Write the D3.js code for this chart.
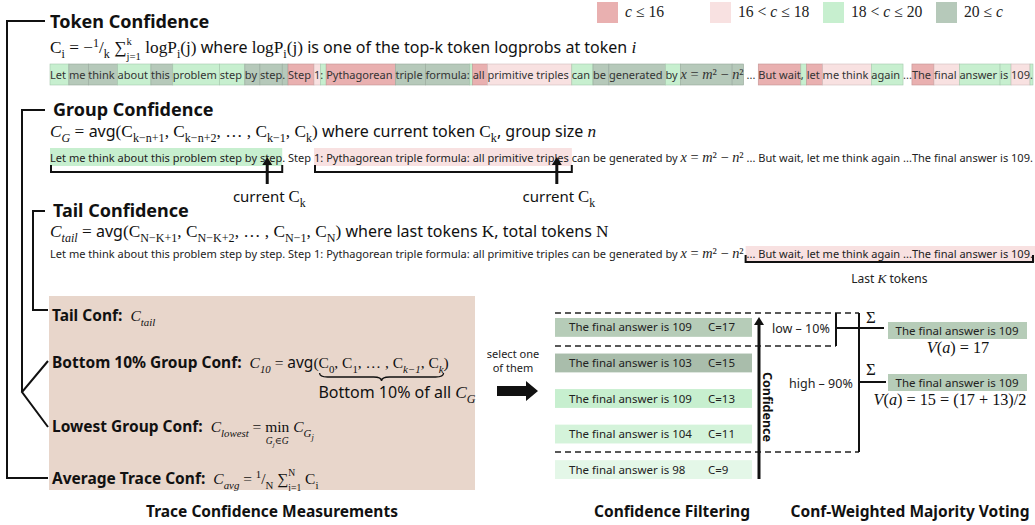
<!DOCTYPE html>
<html><head><meta charset="utf-8">
<script src="https://cdn.jsdelivr.net/npm/d3@7"></script>
<style>body{margin:0;background:#fff} svg{display:block} text{white-space:pre}</style>
</head><body><svg id="c" width="1035" height="525"></svg>
<script>
// ---------------- data ----------------
const levels = ['low', 'mid', 'high', 'top'];
const legendLabels = ['c ≤ 16', '16 < c ≤ 18', '18 < c ≤ 20', '20 ≤ c'];
const levelColors = ['#e9b0b0', '#f8e1e1', '#c7efcf', '#b6c9ba'];
// token text and its confidence level index (-1 = none)
const tokenTexts = ['Let ', 'me ', 'think ', 'about ', 'this ', 'problem ', 'step ', 'by ', 'step', '. ',
  'Step ', '1', ': ', 'Pythagorean ', 'triple ', 'formula:', ' ', 'all ', 'primitive triples ',
  'can ', 'be ', 'generated ', 'by ', 'x = m² − ', 'n²', ' ... ', 'But wait', ', ', 'let ', 'me think ',
  'again ', '...', 'The ', 'final ', 'answer ', 'is ', '109', '.'];
const tokenLevels = [2, 3, 3, 2, 3, 2, 2, 3, 3, 3,
  0, 1, 2, 0, 3, 3, 2, 0, 1,
  2, 3, 3, 2, 3, 3, -1, 0, 2, 0, 1,
  2, -1, 0, 1, 2, 2, 1, 2];
const mathTokens = [23, 24];
const groupSpans = [[0, 8], [11, 18]];
const groupSpanLevels = [2, 1];
const tailSpan = [25, 37];
const answers = [109, 103, 109, 104, 98];
const confs = [17, 15, 13, 11, 9];
const rowColors = ['#b6ccb8', '#a9bdab', '#c7efcf', '#d4f3da', '#e4f7e8'];
const filterKeep = [1, 4];
const filterLabels = ['low – 10%', 'high – 90%'];
const titles = ['Trace Confidence Measurements', 'Confidence Filtering', 'Conf-Weighted Majority Voting'];

// ---------------- helpers ----------------
const SANS = "'Noto Sans', 'Open Sans', sans-serif";
const SERIF = "'Liberation Serif', 'DejaVu Serif', serif";
const FONTS = {
  m: {family: SERIF, style: 'normal', weight: 'normal', math: true},
  mi: {family: SERIF, style: 'italic', weight: 'normal', math: true},
  s: {family: SANS, style: 'normal', weight: 'normal'},
  b: {family: SANS, style: 'normal', weight: 'bold'}
};
const M = t => ({t, f: 'm'}), I = t => ({t, f: 'mi'}), S = t => ({t, f: 's'}), B = t => ({t, f: 'b'});
const sub = (t, f = 'm', o = {}) => Object.assign({t, f, pos: 'sub'}, o);
const sup = (t, f = 'm', o = {}) => Object.assign({t, f, pos: 'sup'}, o);

function rich(parent, x, y, size, segs, color, ms) {
  color = color || '#111';
  ms = ms || 1.12;
  let cx = x, pend = 0, inStack = false;
  const marks = {};
  for (const s of segs) {
    if (s.mark) marks[s.mark] = cx;
    const f = FONTS[s.f || 'm'];
    let fs = size * (f.math ? ms : 1), dy = 0;
    const st = s.stack || inStack;
    if (s.pos === 'sub') { dy = (st ? 0.42 : 0.3) * size; fs *= st ? 0.62 : 0.7; }
    else if (s.pos === 'sup') { dy = (st ? -0.5 : -0.38) * size; fs *= st ? 0.62 : 0.7; }
    else if (s.pos === 'sub2') { dy = 0.5 * size; fs *= 0.55; }
    const t = parent.append('text').attr('x', cx).attr('y', y + dy)
      .attr('font-family', f.family).attr('font-style', f.style).attr('font-weight', f.weight)
      .attr('font-size', fs).attr('fill', color).text(s.t);
    const w = t.node().getComputedTextLength();
    if (s.under) {
      const ug = parent.append('g');
      const r = rich(ug, 0, 0, size * 0.62, s.under, color, ms);
      ug.attr('transform', `translate(${cx + w / 2 - r.end / 2},${y + size * 0.8})`);
    }
    if (s.stack) { pend = w; inStack = true; } else { cx += Math.max(w, pend); pend = 0; inStack = false; }
    if (s.endMark) marks[s.endMark] = cx;
  }
  return {end: cx - x, marks};
}
function centered(parent, cx, y, size, segs, color, ms) {
  const g = parent.append('g');
  const r = rich(g, 0, y, size, segs, color, ms);
  g.attr('transform', `translate(${cx - r.end / 2},0)`);
  return r;
}
function upArrow(parent, x, y1, y2) {
  parent.append('line').attr('x1', x).attr('x2', x).attr('y1', y1).attr('y2', y2 + 6)
    .attr('stroke', '#111').attr('stroke-width', 3);
  parent.append('path').attr('d', `M${x - 5},${y2 + 8} L${x},${y2} L${x + 5},${y2 + 8} Z`).attr('fill', '#111');
}

const svg = d3.select('#c');
svg.append('rect').attr('width', 1035).attr('height', 525).attr('fill', '#fff');

// ---------------- legend ----------------
const lx = d3.scaleBand().domain(levels).range([597, 1049]);
levels.forEach((lv, i) => {
  svg.append('rect').attr('x', lx(lv)).attr('y', 2).attr('width', 21).attr('height', 21).attr('fill', levelColors[i]);
  const p = legendLabels[i].split('c');
  rich(svg, lx(lv) + 28, 17, 14, [M(p[0]), I('c'), M(p[1])], '#222');
});

// ---------------- token layout (measured) ----------------
function drawTokenText(g, x, y, i, size, color) {
  const t = g.append('text').attr('x', x).attr('y', y).attr('font-family', SANS)
    .attr('font-size', size).attr('fill', color);
  if (mathTokens.includes(i)) {
    for (const ch of tokenTexts[i]) {
      const letter = /[a-z]/.test(ch);
      t.append('tspan').attr('font-family', SERIF).attr('font-size', '1.3em')
        .attr('font-style', letter ? 'italic' : 'normal').text(ch);
    }
  } else t.text(tokenTexts[i]);
  return t;
}
const meas = svg.append('g').attr('opacity', 0);
const baseSize = 11;
const widths = tokenTexts.map((_, i) => drawTokenText(meas, 0, 0, i, baseSize, '#000').node().getComputedTextLength());
meas.remove();
const totalW = d3.sum(widths);
const starts = d3.cumsum([0, ...widths]);
const tx = d3.scaleLinear().domain([0, totalW]).range([50, 1033]);
const tokSize = baseSize * 983 / totalW;
const tokStart = i => tx(starts[i]);
const tokEnd = i => tx(starts[i + 1]);

// ---------------- Token Confidence ----------------
rich(svg, 50, 28, 18, [B('Token Confidence')]);
rich(svg, 50, 53, 16, [M('C'), sub('i'), M(' = −'), sup('1'), M('/'), sub('k'), M(' ∑'), sub('j=1', 'm', {stack: true}), sup('k'),
  M(' logP'), sub('i'), M('(j)'), S(' where '), M('logP'), sub('i'), M('(j)'),
  S(' is one of the top-k token logprobs at token '), I('i')], '#111', 1.08);
const row1 = svg.append('g');
tokenTexts.forEach((_, i) => {
  if (tokenLevels[i] < 0) return;
  row1.append('rect').attr('x', tokStart(i)).attr('y', 64).attr('width', tokEnd(i) - tokStart(i)).attr('height', 21)
    .attr('fill', levelColors[tokenLevels[i]])
    .attr('stroke', d3.color(levelColors[tokenLevels[i]]).darker(0.5)).attr('stroke-width', 0.6);
});
tokenTexts.forEach((_, i) => drawTokenText(row1, tokStart(i), 79, i, tokSize, '#333'));

// ---------------- Group Confidence ----------------
rich(svg, 53, 116, 18, [B('Group Confidence')]);
rich(svg, 50, 137, 16, [I('C'), sub('G', 'mi'), M(' = '), S('avg'), M('('), M('C'), sub('k−n+1'), M(', '), M('C'), sub('k−n+2'),
  M(', … , '), M('C'), sub('k−1'), M(', '), M('C'), sub('k'), M(')'), S(' where current token '), M('C'), sub('k'),
  S(', group size '), I('n')], '#111', 1.08);
const row2 = svg.append('g');
groupSpans.forEach(([a, b], j) => {
  row2.append('rect').attr('x', tokStart(a)).attr('y', 148).attr('width', tokEnd(b) - tokStart(a)).attr('height', 18)
    .attr('fill', levelColors[groupSpanLevels[j]]);
});
tokenTexts.forEach((_, i) => drawTokenText(row2, tokStart(i), 162, i, tokSize, '#222'));
groupSpans.forEach(([a, b]) => {
  const x1 = tokStart(a) + 1, x2 = tokEnd(b);
  row2.append('path').attr('d', `M${x1},165 V172 H${x2} V165`).attr('fill', 'none').attr('stroke', '#111').attr('stroke-width', 2);
  const ax = x2 - 15;
  upArrow(row2, ax, 184, 157);
  centered(row2, ax + 2, 202, 15, [S('current '), M('C'), sub('k')]);
});

// ---------------- Tail Confidence ----------------
rich(svg, 53, 217, 18, [B('Tail Confidence')]);
rich(svg, 50, 237, 16, [I('C'), sub('tail', 'mi'), M(' = '), S('avg'), M('('), M('C'), sub('N−K+1'), M(', '), M('C'), sub('N−K+2'),
  M(', … , '), M('C'), sub('N−1'), M(', '), M('C'), sub('N'), M(')'), S(' where last tokens '), M('K'),
  S(', total tokens '), M('N')], '#111', 1.08);
const row3 = svg.append('g');
row3.append('rect').attr('x', tokStart(tailSpan[0]) + 2).attr('y', 246).attr('width', 1035 - tokStart(tailSpan[0]) - 2).attr('height', 16)
  .attr('fill', levelColors[1]);
tokenTexts.forEach((_, i) => drawTokenText(row3, tokStart(i), 258, i, tokSize, '#222'));
{
  const x1 = tokStart(tailSpan[0]) + 2, x2 = 1033;
  row3.append('path').attr('d', `M${x1},255 V262 H${x2} V255`).attr('fill', 'none').attr('stroke', '#111').attr('stroke-width', 2);
  centered(row3, (x1 + x2) / 2, 283, 12, [S('Last '), I('K'), S(' tokens')], '#222');
}

// ---------------- tree lines ----------------
const tree = svg.append('g').attr('fill', 'none').attr('stroke', '#111').attr('stroke-width', 2);
tree.append('path').attr('d', 'M45,21 H7 V478 H48');
tree.append('path').attr('d', 'M45,110 H22 V392');
tree.append('path').attr('d', 'M48,361 L22,392 L48,427');
tree.append('path').attr('d', 'M45,211 H33 V310 H48');

// ---------------- measurement box ----------------
svg.append('rect').attr('x', 49).attr('y', 296).attr('width', 426).attr('height', 194).attr('fill', '#e8d6cb');
const BX = 15.5, BMS = 1.0;
rich(svg, 52, 321, BX, [B('Tail Conf:  '), I('C'), sub('tail', 'mi')], '#111', BMS);
const b10 = rich(svg, 52, 368, BX, [B('Bottom 10% Group Conf:  '), I('C'), sub('10', 'mi'), M(' = '), S('avg'), M('('),
  {t: 'C', f: 'm', mark: 'a'}, sub('0'), M(', '), M('C'), sub('1'), M(', … , '), M('C'), sub('k−1', 'mi'), M(', '), M('C'),
  sub('k', 'mi', {endMark: 'b'}), M(')')], '#111', BMS);
{
  const x1 = b10.marks.a + 1, x2 = b10.marks.b, y = 373, d = 8, xm = (x1 + x2) / 2;
  svg.append('path').attr('fill', 'none').attr('stroke', '#111').attr('stroke-width', 1.3)
    .attr('d', `M${x1},${y} Q${x1},${y + d / 2} ${x1 + d},${y + d / 2} L${xm - d},${y + d / 2} Q${xm},${y + d / 2} ${xm},${y + d} Q${xm},${y + d / 2} ${xm + d},${y + d / 2} L${x2 - d},${y + d / 2} Q${x2},${y + d / 2} ${x2},${y}`);
  centered(svg, 397, 398, 16, [S('Bottom 10% of all '), I('C'), sub('G', 'mi')], '#111', 1.08);
}
rich(svg, 52, 432, BX, [B('Lowest Group Conf:  '), I('C'), sub('lowest', 'mi'), M(' = '),
  {t: 'min', f: 'm', under: [I('G'), sub('j', 'mi'), M('∈'), I('G')]}, M(' '), I('C'), sub('G', 'mi'), {t: 'j', f: 'mi', pos: 'sub2'}], '#111', BMS);
rich(svg, 52, 484, BX, [B('Average Trace Conf:  '), I('C'), sub('avg', 'mi'), M(' = '), sup('1'), M('/'), sub('N'), M(' ∑'),
  sub('i=1', 'm', {stack: true}), sup('N'), M(' C'), sub('i')], '#111', BMS);

// ---------------- select arrow ----------------
centered(svg, 513, 358, 11, [S('select one')], '#222');
centered(svg, 513, 372, 11, [S('of them')], '#222');
svg.append('path').attr('d', 'M497,386 H526 V381 L538,391 L526,401 V396 H497 Z').attr('fill', '#111');

// ---------------- confidence filtering ----------------
const ry = d3.scaleBand().domain(d3.range(confs.length)).range([318, 479]).paddingInner(0.47);
const rows = svg.append('g');
confs.forEach((c, i) => {
  rows.append('rect').attr('x', 555).attr('y', ry(i)).attr('width', 197).attr('height', ry.bandwidth()).attr('fill', rowColors[i]);
  rows.append('text').attr('x', 569).attr('y', ry(i) + ry.bandwidth() / 2 + 4).attr('font-family', SANS).attr('font-size', 11.5)
    .attr('fill', '#222').text('The final answer is ' + answers[i]);
  rows.append('text').attr('x', 708).attr('y', ry(i) + ry.bandwidth() / 2 + 4).attr('font-family', SANS).attr('font-size', 11.5)
    .attr('fill', '#222').text('C=' + c);
});
const dash = svg.append('g').attr('stroke', '#222').attr('stroke-width', 1.5).attr('stroke-dasharray', '6,4');
dash.append('line').attr('x1', 555).attr('x2', 859).attr('y1', 313).attr('y2', 313);
dash.append('line').attr('x1', 555).attr('x2', 836).attr('y1', 346).attr('y2', 346);
dash.append('line').attr('x1', 555).attr('x2', 859).attr('y1', 452).attr('y2', 452);
upArrow(svg, 759, 479, 317);
svg.append('text').attr('transform', 'translate(763,407) rotate(90)').attr('text-anchor', 'middle')
  .attr('font-family', SANS).attr('font-weight', 'bold').attr('font-size', 12.5).attr('fill', '#111').text('Confidence');

// ---------------- weighted voting ----------------
const vl = svg.append('g').attr('stroke', '#111').attr('stroke-width', 2).attr('fill', 'none');
vl.append('path').attr('d', 'M836,313 V346');
vl.append('path').attr('d', 'M836,328 H884');
vl.append('path').attr('d', 'M859,313 V452');
vl.append('path').attr('d', 'M859,382 H886');
const labelPos = [[772, 333], [789, 388]];
const boxY = [322, 374];
filterKeep.forEach((n, j) => {
  rich(svg, labelPos[j][0], labelPos[j][1], 12.5, [S(filterLabels[j])], '#222');
  rich(svg, 866, boxY[j] + 1, 15, [M('Σ')]);
  const kept = d3.range(n);
  const top = d3.greatest(kept, i => confs[i]);
  const ans = answers[top];
  const sel = kept.filter(i => answers[i] === ans).map(i => confs[i]);
  const v = d3.mean(sel);
  svg.append('rect').attr('x', 888).attr('y', boxY[j]).attr('width', 139).attr('height', 17).attr('fill', rowColors[0]);
  svg.append('text').attr('x', 957).attr('y', boxY[j] + 12.5).attr('text-anchor', 'middle').attr('font-family', SANS)
    .attr('font-size', 11.5).attr('fill', '#222').text('The final answer is ' + ans);
  const segs = [I('V'), M('('), I('a'), M(') = ' + v)];
  if (sel.length > 1) segs.push(M(' = (' + sel.join(' + ') + ')/' + sel.length));
  centered(svg, sel.length > 1 ? 950 : 958, boxY[j] + 31, 14.5, segs);
});

// ---------------- section titles ----------------
[[272, 0], [672, 1], [910, 2]].forEach(([x, i]) => centered(svg, x, 517, 15.5, [B(titles[i])]));
</script>
</body></html>
